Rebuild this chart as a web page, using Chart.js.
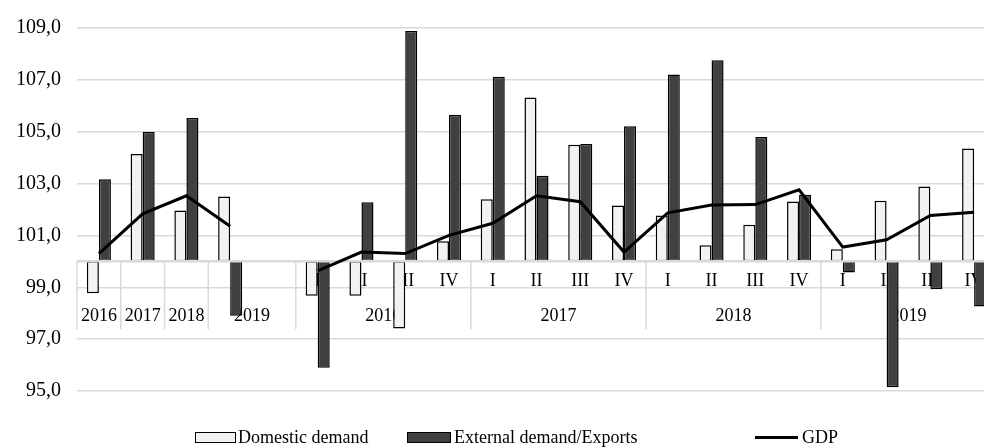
<!DOCTYPE html>
<html lang="en">
<head>
    <meta charset="UTF-8">
    <title>Domestic demand, external demand and GDP</title>
    <script src="https://cdn.jsdelivr.net/npm/chart.js"></script>
    <style>
        html, body {
            margin: 0;
            padding: 0;
            overflow: hidden;
            background: #fff;
            font-family: "Liberation Serif", serif;
        }
        .chart-box {
            position: relative;
            width: 1000px;
            height: 447px;
        }
        .legend-item {
            position: absolute;
            top: 427px;
            font-size: 18px;
            line-height: 20px;
            color: #000;
            white-space: nowrap;
        }
        .legend-box {
            position: absolute;
            box-sizing: border-box;
            height: 11px;
            border: 1.5px solid #000;
        }
    </style>
</head>
<body>
    <div class="chart-box">
        <canvas id="demandChart"></canvas>

        <!-- legenda -->
        <div class="legend-box" style="left: 195px; top: 432px; width: 41px; background: #f2f2f2;"></div>
        <span class="legend-item" style="left: 238px;">Domestic demand</span>
        <div class="legend-box" style="left: 407px; top: 432px; width: 44px; background: #404040;"></div>
        <span class="legend-item" style="left: 454px;">External demand/Exports</span>
        <div style="position: absolute; left: 755px; top: 435.5px; width: 43px; height: 3px; background: #000;"></div>
        <span class="legend-item" style="left: 802px;">GDP</span>
    </div>

    <script>
        // Dados (índice, ano anterior = 100)
        const years = ['2016', '2017', '2018', '2019'];
        const quarters = ['I', 'II', 'III', 'IV'];

        // 4 anos, uma coluna vazia, 16 trimestres
        const categories = [...years, ''].concat(
            years.flatMap(y => quarters.map(q => y + ' ' + q))
        );

        const domesticDemand = [98.77, 104.14, 101.96, 102.50, null,
            98.67, 98.67, 97.41, 100.78,
            102.40, 106.32, 104.50, 102.15,
            101.77, 100.62, 101.41, 102.31,
            100.47, 102.34, 102.89, 104.35];

        const externalDemand = [103.17, 104.99, 105.53, 97.90, null,
            95.90, 102.28, 108.88, 105.65,
            107.12, 103.30, 104.53, 105.21,
            107.21, 107.76, 104.80, 102.57,
            99.57, 95.14, 98.92, 98.26];

        const gdp = [100.30, 101.83, 102.53, 101.35, null,
            99.63, 100.36, 100.30, 101.00,
            101.47, 102.53, 102.30, 100.36,
            101.87, 102.17, 102.19, 102.76,
            100.55, 100.83, 101.77, 101.89];

        const yTicks = [95, 97, 99, 101, 103, 105, 107, 109];

        const gridColor = '#d9d9d9';
        const labelFont = '18px "Liberation Serif"';

        // tabela de categorias embaixo do eixo (linha 100)
        const categoryTable = {
            id: 'categoryTable',
            beforeDatasetsDraw(chart) {
                const { ctx, scales: { x, y } } = chart;
                const y0 = y.getPixelForValue(100);
                const half = (x.getPixelForValue(1) - x.getPixelForValue(0)) / 2;
                const bottom = y0 + 68;

                ctx.save();
                ctx.strokeStyle = gridColor;
                ctx.lineWidth = 1.5;
                [0, 1, 2, 3, 5, 9, 13, 17, 21].forEach(i => {
                    const px = x.getPixelForValue(i) - half;
                    ctx.beginPath();
                    ctx.moveTo(px, y0);
                    ctx.lineTo(px, bottom);
                    ctx.stroke();
                });

                ctx.fillStyle = '#000';
                ctx.font = labelFont;
                ctx.textAlign = 'center';
                ctx.textBaseline = 'middle';

                // anos (colunas anuais)
                years.forEach((yr, i) => {
                    let px = x.getPixelForValue(i);
                    if (i === 3) px = (x.getPixelForValue(3) + x.getPixelForValue(4)) / 2;
                    ctx.fillText(yr, px, y0 + 55);
                });

                // trimestres e anos dos trimestres
                years.forEach((yr, k) => {
                    const start = 5 + k * 4;
                    quarters.forEach((q, j) => {
                        ctx.fillText(q, x.getPixelForValue(start + j), y0 + 20);
                    });
                    const mid = (x.getPixelForValue(start) + x.getPixelForValue(start + 3)) / 2;
                    ctx.fillText(yr, mid, y0 + 55);
                });
                ctx.restore();
            },
            beforeDatasetDraw(chart, args) {
                // eixo em 100 por cima das barras, antes da linha do PIB
                if (args.index !== 2) return;
                const { ctx, chartArea, scales: { y } } = chart;
                const y0 = y.getPixelForValue(100);
                ctx.save();
                ctx.strokeStyle = gridColor;
                ctx.lineWidth = 2.5;
                ctx.beginPath();
                ctx.moveTo(chartArea.left, y0);
                ctx.lineTo(chartArea.right, y0);
                ctx.stroke();
                ctx.restore();
            }
        };

        const ctx = document.getElementById('demandChart').getContext('2d');
        const demandChart = new Chart(ctx, {
            type: 'bar',
            data: {
                labels: categories,
                datasets: [{
                    label: 'Domestic demand',
                    data: domesticDemand,
                    base: 100,
                    backgroundColor: '#f2f2f2',
                    borderColor: '#000',
                    borderWidth: 1.5,
                    borderSkipped: false,
                    categoryPercentage: 0.55,
                    barPercentage: 1,
                    order: 1
                }, {
                    label: 'External demand/Exports',
                    data: externalDemand,
                    base: 100,
                    backgroundColor: '#404040',
                    borderColor: '#000',
                    borderWidth: 1.5,
                    borderSkipped: false,
                    categoryPercentage: 0.55,
                    barPercentage: 1,
                    order: 1
                }, {
                    type: 'line',
                    label: 'GDP',
                    data: gdp,
                    borderColor: '#000',
                    borderWidth: 3,
                    pointRadius: 0,
                    tension: 0,
                    spanGaps: false,
                    order: 0
                }]
            },
            options: {
                responsive: true,
                maintainAspectRatio: false,
                animation: false,
                layout: {
                    padding: { left: 0, right: 4, top: 24, bottom: 56 }
                },
                plugins: {
                    legend: { display: false },
                    tooltip: { enabled: false }
                },
                scales: {
                    x: {
                        display: false
                    },
                    y: {
                        min: 95,
                        max: 109,
                        afterFit(scale) {
                            scale.width = 77;
                        },
                        afterBuildTicks(scale) {
                            scale.ticks = yTicks.map(v => ({ value: v }));
                        },
                        border: { display: false },
                        grid: {
                            color: gridColor,
                            lineWidth: 1.5,
                            drawTicks: false
                        },
                        ticks: {
                            padding: 16,
                            color: '#000',
                            font: { family: 'Liberation Serif', size: 20 },
                            callback: v => v.toFixed(1).replace('.', ',')
                        }
                    }
                }
            },
            plugins: [categoryTable]
        });
    </script>
</body>
</html>
